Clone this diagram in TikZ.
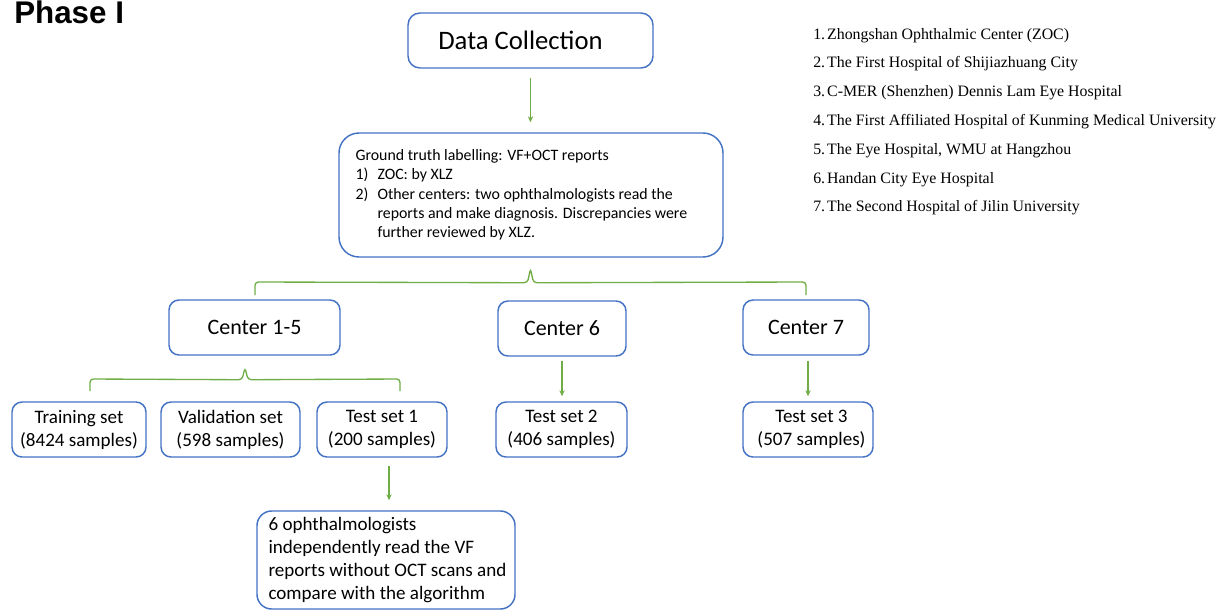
\documentclass[tikz,border=0pt]{standalone}
\usepackage{fontspec}
\setmainfont{Carlito}
\newfontfamily\listfont{Liberation Serif}
\newfontfamily\phasefont{Liberation Sans}
\usetikzlibrary{arrows.meta,calc}
\newlength\pxu
\setlength\pxu{0.75pt}
\definecolor{boxblue}{HTML}{4472C4}
\definecolor{lngreen}{HTML}{70AD47}
\begin{document}
\begin{tikzpicture}[x=0.75pt,y=-0.75pt,
  box/.style={draw=boxblue, line width=1.1pt, rounded corners=7.5pt, align=center, inner sep=0pt},
  conn/.style={draw=lngreen, line width=1pt},
  arr/.style={conn, -{Stealth[length=4.5pt,width=4pt]}},
  setfont/.style={font=\fontsize{14.3}{17.25}\selectfont},
  cenfont/.style={font=\fontsize{16.5}{20}\selectfont},
  listline/.style={anchor=base west, inner sep=0pt, font=\listfont\fontsize{11.9}{14}\selectfont}
]
\useasboundingbox (0,0) rectangle (1218,611);

% title
\node[anchor=base west, inner sep=0pt, font=\phasefont\bfseries\fontsize{23.5}{28}\selectfont] (phase) at (14,23) {Phase I};

% boxes
\node[box, rounded corners=9pt, minimum width=245\pxu, minimum height=55\pxu, font=\fontsize{20}{24}\selectfont] (dc) at (530.5,40.5) {Data Collection\hspace*{20\pxu}};
\node[box, rounded corners=15pt, minimum width=384\pxu, minimum height=124\pxu] (gt) at (531,195) {};
\node[anchor=west, align=left, inner sep=0pt, font=\fontsize{11.9}{14.5}\selectfont] (gtt) at ($(gt.west)+(17,0)$)
  {Ground truth labelling: VF+OCT reports\\
   \makebox[16.5pt][l]{1)}ZOC: by XLZ\\
   \makebox[16.5pt][l]{2)}Other centers: two ophthalmologists read the\\
   \hspace*{16.5pt}reports and make diagnosis. Discrepancies were\\
   \hspace*{16.5pt}further reviewed by XLZ.};

\node[box, cenfont, minimum width=171\pxu, minimum height=55\pxu] (c15) at (254.5,327.5) {Center 1-5};
\node[box, cenfont, minimum width=128\pxu, minimum height=55\pxu] (c6) at (562,328.5) {Center 6};
\node[box, cenfont, minimum width=126\pxu, minimum height=55\pxu] (c7) at (806,327.5) {Center 7};

\node[box, setfont, minimum width=134\pxu, minimum height=55\pxu] (tr) at (79,429.5) {Training set\\(8424 samples)};
\node[box, setfont, minimum width=139\pxu, minimum height=55\pxu] (va) at (230.5,429.5) {Validation set\\(598 samples)};
\node[box, setfont, minimum width=130\pxu, minimum height=55\pxu] (t1) at (382,429.5) {Test set 1\\(200 samples)};
\node[box, setfont, minimum width=131\pxu, minimum height=55\pxu] (t2) at (561.5,429.5) {Test set 2\\(406 samples)};
\node[box, setfont, minimum width=130\pxu, minimum height=55\pxu] (t3) at (808,429.5) {\hspace*{7\pxu}Test set 3\\\hspace*{7\pxu}(507 samples)};

\node[box, rounded corners=11pt, minimum width=258\pxu, minimum height=98\pxu] (fin) at (386,560) {};
\node[anchor=west, align=left, inner sep=0pt, font=\fontsize{14.3}{17.25}\selectfont] (fint) at ($(fin.west)+(12,0)$)
  {6 ophthalmologists\\independently read the VF\\reports without OCT scans and\\compare with the algorithm};

% list of centers
\foreach \i/\t in {1/Zhongshan Ophthalmic Center (ZOC),
                   2/The First Hospital of Shijiazhuang City,
                   3/C-MER (Shenzhen) Dennis Lam Eye Hospital,
                   4/The First Affiliated Hospital of Kunming Medical University,
                   5/{The Eye Hospital, WMU at Hangzhou},
                   6/Handan City Eye Hospital,
                   7/The Second Hospital of Jilin University}
  \node[listline] (l\i) at (813,{39+28.8*(\i-1)}) {\i.\hspace{1.5pt}\t};

% connectors
\draw[arr, shorten <=9\pxu, shorten >=10\pxu] (dc.south) -- (dc.south |- gt.north);

\coordinate (b1) at ($(gt.south)+(-0.5,11)$);
\coordinate (b1l) at (255,295);
\coordinate (b1r) at (806,295);
\draw[conn, rounded corners=2.5pt] (b1l) -- (b1l |- 0,282) -- ($(b1)+(-3,14)$) -- (b1) -- ($(b1)+(3,14)$) -- (b1r |- 0,282) -- (b1r);

\coordinate (b2) at ($(c15.south)+(-9.5,12)$);
\coordinate (b2l) at (90,391);
\coordinate (b2r) at (400,391);
\draw[conn, rounded corners=2.5pt] (b2l) -- (b2l |- 0,379) -- ($(b2)+(-3,12)$) -- (b2) -- ($(b2)+(3,12)$) -- (b2r |- 0,379) -- (b2r);

\draw[arr, shorten <=4\pxu, shorten >=5\pxu] (c6.south) -- (c6.south |- t2.north);
\draw[arr, shorten <=5\pxu, shorten >=5\pxu] (t3.north |- c7.south) -- (t3.north);
\coordinate (t1a) at ($(t1.south)+(7,0)$);
\draw[arr, shorten <=8\pxu, shorten >=10\pxu] (t1a) -- (t1a |- fin.north);
\end{tikzpicture}
\end{document}
